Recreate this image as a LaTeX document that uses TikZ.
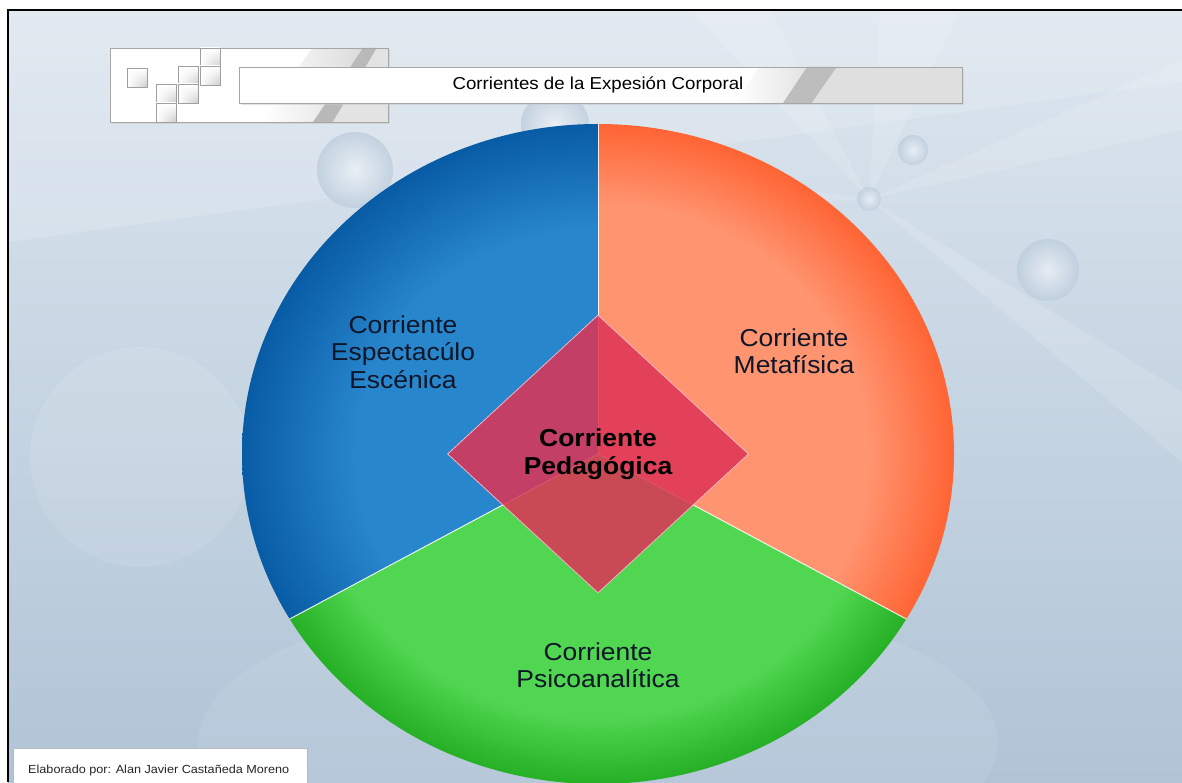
\documentclass[tikz,border=0pt]{standalone}
\usepackage{fontspec}
\setmainfont{Liberation Sans}
\usepackage{graphicx}
\usetikzlibrary{shapes.geometric,shadings}
\definecolor{bgTop}{RGB}{221,230,239}
\definecolor{bgBot}{RGB}{176,196,214}
\definecolor{bIn}{RGB}{40,134,205}
\definecolor{bOut}{RGB}{8,92,165}
\definecolor{oIn}{RGB}{255,148,112}
\definecolor{oOut}{RGB}{255,100,52}
\definecolor{gIn}{RGB}{80,214,80}
\definecolor{gOut}{RGB}{38,176,38}
\definecolor{dia}{RGB}{222,52,86}
\definecolor{diaedge}{RGB}{245,180,195}
\definecolor{lbltext}{RGB}{15,22,40}
\definecolor{bubIn}{RGB}{238,243,248}
\definecolor{bubOut}{RGB}{188,204,220}
\pgfdeclareradialshading{blueshade}{\pgfpoint{0bp}{0bp}}{color(0bp)=(bIn); color(17bp)=(bIn); color(25bp)=(bOut); color(50bp)=(bOut)}
\pgfdeclareradialshading{orangeshade}{\pgfpoint{0bp}{0bp}}{color(0bp)=(oIn); color(19bp)=(oIn); color(25bp)=(oOut); color(50bp)=(oOut)}
\pgfdeclareradialshading{greenshade}{\pgfpoint{0bp}{0bp}}{color(0bp)=(gIn); color(20bp)=(gIn); color(25bp)=(gOut); color(50bp)=(gOut)}
\newcommand\hs[1]{\scalebox{1.08}[1]{#1}}
\tikzset{
  lbl/.style={font=\fontsize{24.5}{27.5}\selectfont, align=center, text=lbltext, xscale=1.08, inner sep=0pt},
  bubble/.style={inner color=bubIn, outer color=bubOut, opacity=0.75},
  ray/.style={fill=white, opacity=0.14},
  sqbox/.style={draw=gray!75, line width=0.8pt},
  sepline/.style={draw=white, line width=1pt, opacity=0.85},
}
\begin{document}
\begin{tikzpicture}[x=1pt, y=1pt]
\useasboundingbox (0,0) rectangle (1182,782);
\fill[white] (0,0) rectangle (1182,782);
% background
\begin{scope}
\clip (8,0) rectangle (1182,772);
\shade[top color=bgTop, bottom color=bgBot] (8,0) rectangle (1182,772);
\fill[white, opacity=0.15] (8,772) -- (1182,772) -- (1182,700) -- (8,540) -- cycle;
\fill[white, opacity=0.10] (140,325) circle[radius=110pt];
\fill[white, opacity=0.08] (598,40) ellipse[x radius=400pt, y radius=150pt];
\coordinate (rc) at (869,583);
\fill[ray] (rc) -- (1182,722) -- (1182,652) -- cycle;
\fill[ray] (rc) -- (1182,390) -- (1182,320) -- cycle;
\fill[ray] (rc) -- (690,772) -- (770,772) -- cycle;
\fill[ray] (rc) -- (880,772) -- (960,772) -- cycle;
\fill[ray] (rc) -- (600,620) -- (600,570) -- cycle;
\shade[bubble] (355,612) circle[radius=38pt];
\shade[bubble] (555,657) circle[radius=34pt];
\shade[bubble] (913,632) circle[radius=15pt];
\shade[bubble] (869,583) circle[radius=12pt];
\shade[bubble] (1048,512) circle[radius=31pt];
\end{scope}
% frame
\draw[line width=2.5pt, black] (8,0) -- (8,772) -- (1182,772);

% pie
\coordinate (c) at (598,328);
\coordinate (top) at (598,658);
\coordinate (ll) at (289.7,163);
\coordinate (lr) at (906.3,163);
\begin{scope}
\clip (c) -- (top) arc[start angle=90, end angle=210, x radius=356pt, y radius=330pt] -- cycle;
\shade[shading=blueshade] (c) ellipse[x radius=356pt, y radius=330pt];
\end{scope}
\begin{scope}
\clip (c) -- (lr) arc[start angle=-30, end angle=90, x radius=356pt, y radius=330pt] -- cycle;
\shade[shading=orangeshade] (c) ellipse[x radius=356pt, y radius=330pt];
\end{scope}
\begin{scope}
\clip (c) -- (ll) arc[start angle=210, end angle=330, x radius=356pt, y radius=330pt] -- cycle;
\shade[shading=greenshade] (c) ellipse[x radius=356pt, y radius=330pt];
\end{scope}
\draw[sepline] (c) -- (top);
\draw[sepline] (c) -- (ll);
\draw[sepline] (c) -- (lr);

% labels
\node[lbl] (esp) at (403,430) {Corriente\\Espectacúlo\\Escénica};
\node[lbl] (meta) at (794,431) {Corriente\\Metafísica};
\node[lbl] (psico) at (598,117) {Corriente\\Psicoanalítica};
\node[diamond, minimum width=301pt, minimum height=278pt, inner sep=0pt,
      fill=dia, fill opacity=0.86, text opacity=1, draw=diaedge, line width=0.8pt,
      font=\bfseries\fontsize{24.5}{28}\selectfont, align=center, text=black] (ped) at (c)
      {\hs{Corriente}\\\hs{Pedagógica}};

% title panel
\fill[gray!45, opacity=0.5] (112,658) rectangle (390,732);
\fill[white] (110,660) rectangle (388,734);
\shade[left color=white, right color=gray!28] (262,660) -- (313,660) -- (363,734) -- (312,734) -- cycle;
\fill[gray!55] (313,660) -- (333,660) -- (377,734) -- (363,734) -- cycle;
\fill[gray!22] (333,660) -- (388,660) -- (388,734) -- (377,734) -- cycle;
\draw[gray!70] (110,660) rectangle (388,734);
\foreach \x/\y in {127/695, 156/679, 156/660, 178/697, 178/679, 200/715, 200/697}{
  \shade[upper left=white, upper right=white, lower left=white, lower right=gray!40] (\x,\y) rectangle ++(20,19);
  \draw[sqbox] (\x,\y) rectangle ++(20,19);
}
% title bar
\fill[gray!45, opacity=0.5] (241,677) rectangle (964,713);
\fill[white] (239,679) rectangle (962,715);
\shade[left color=white, right color=gray!22] (735,679) -- (783,679) -- (807,715) -- (759,715) -- cycle;
\fill[gray!52] (783,679) -- (812,679) -- (837,715) -- (807,715) -- cycle;
\fill[gray!25] (812,679) -- (962,679) -- (962,715) -- (837,715) -- cycle;
\draw[gray!70] (239,679) rectangle (962,715);
\node[font=\fontsize{17.3}{20}\selectfont, xscale=1.08, text=black] (title) at (598,697) {Corrientes de la Expesión Corporal};

% credit
\node[draw=gray!55, fill=white, anchor=south west, minimum width=294pt, minimum height=36pt, inner sep=0pt] (cbox) at (13,-2) {};
\node[anchor=west, font=\fontsize{11.7}{13}\selectfont, xscale=1.08, inner sep=0pt, text=black!85] (credit) at (28,12) {Elaborado por: Alan Javier Castañeda Moreno};
\end{tikzpicture}
\end{document}
